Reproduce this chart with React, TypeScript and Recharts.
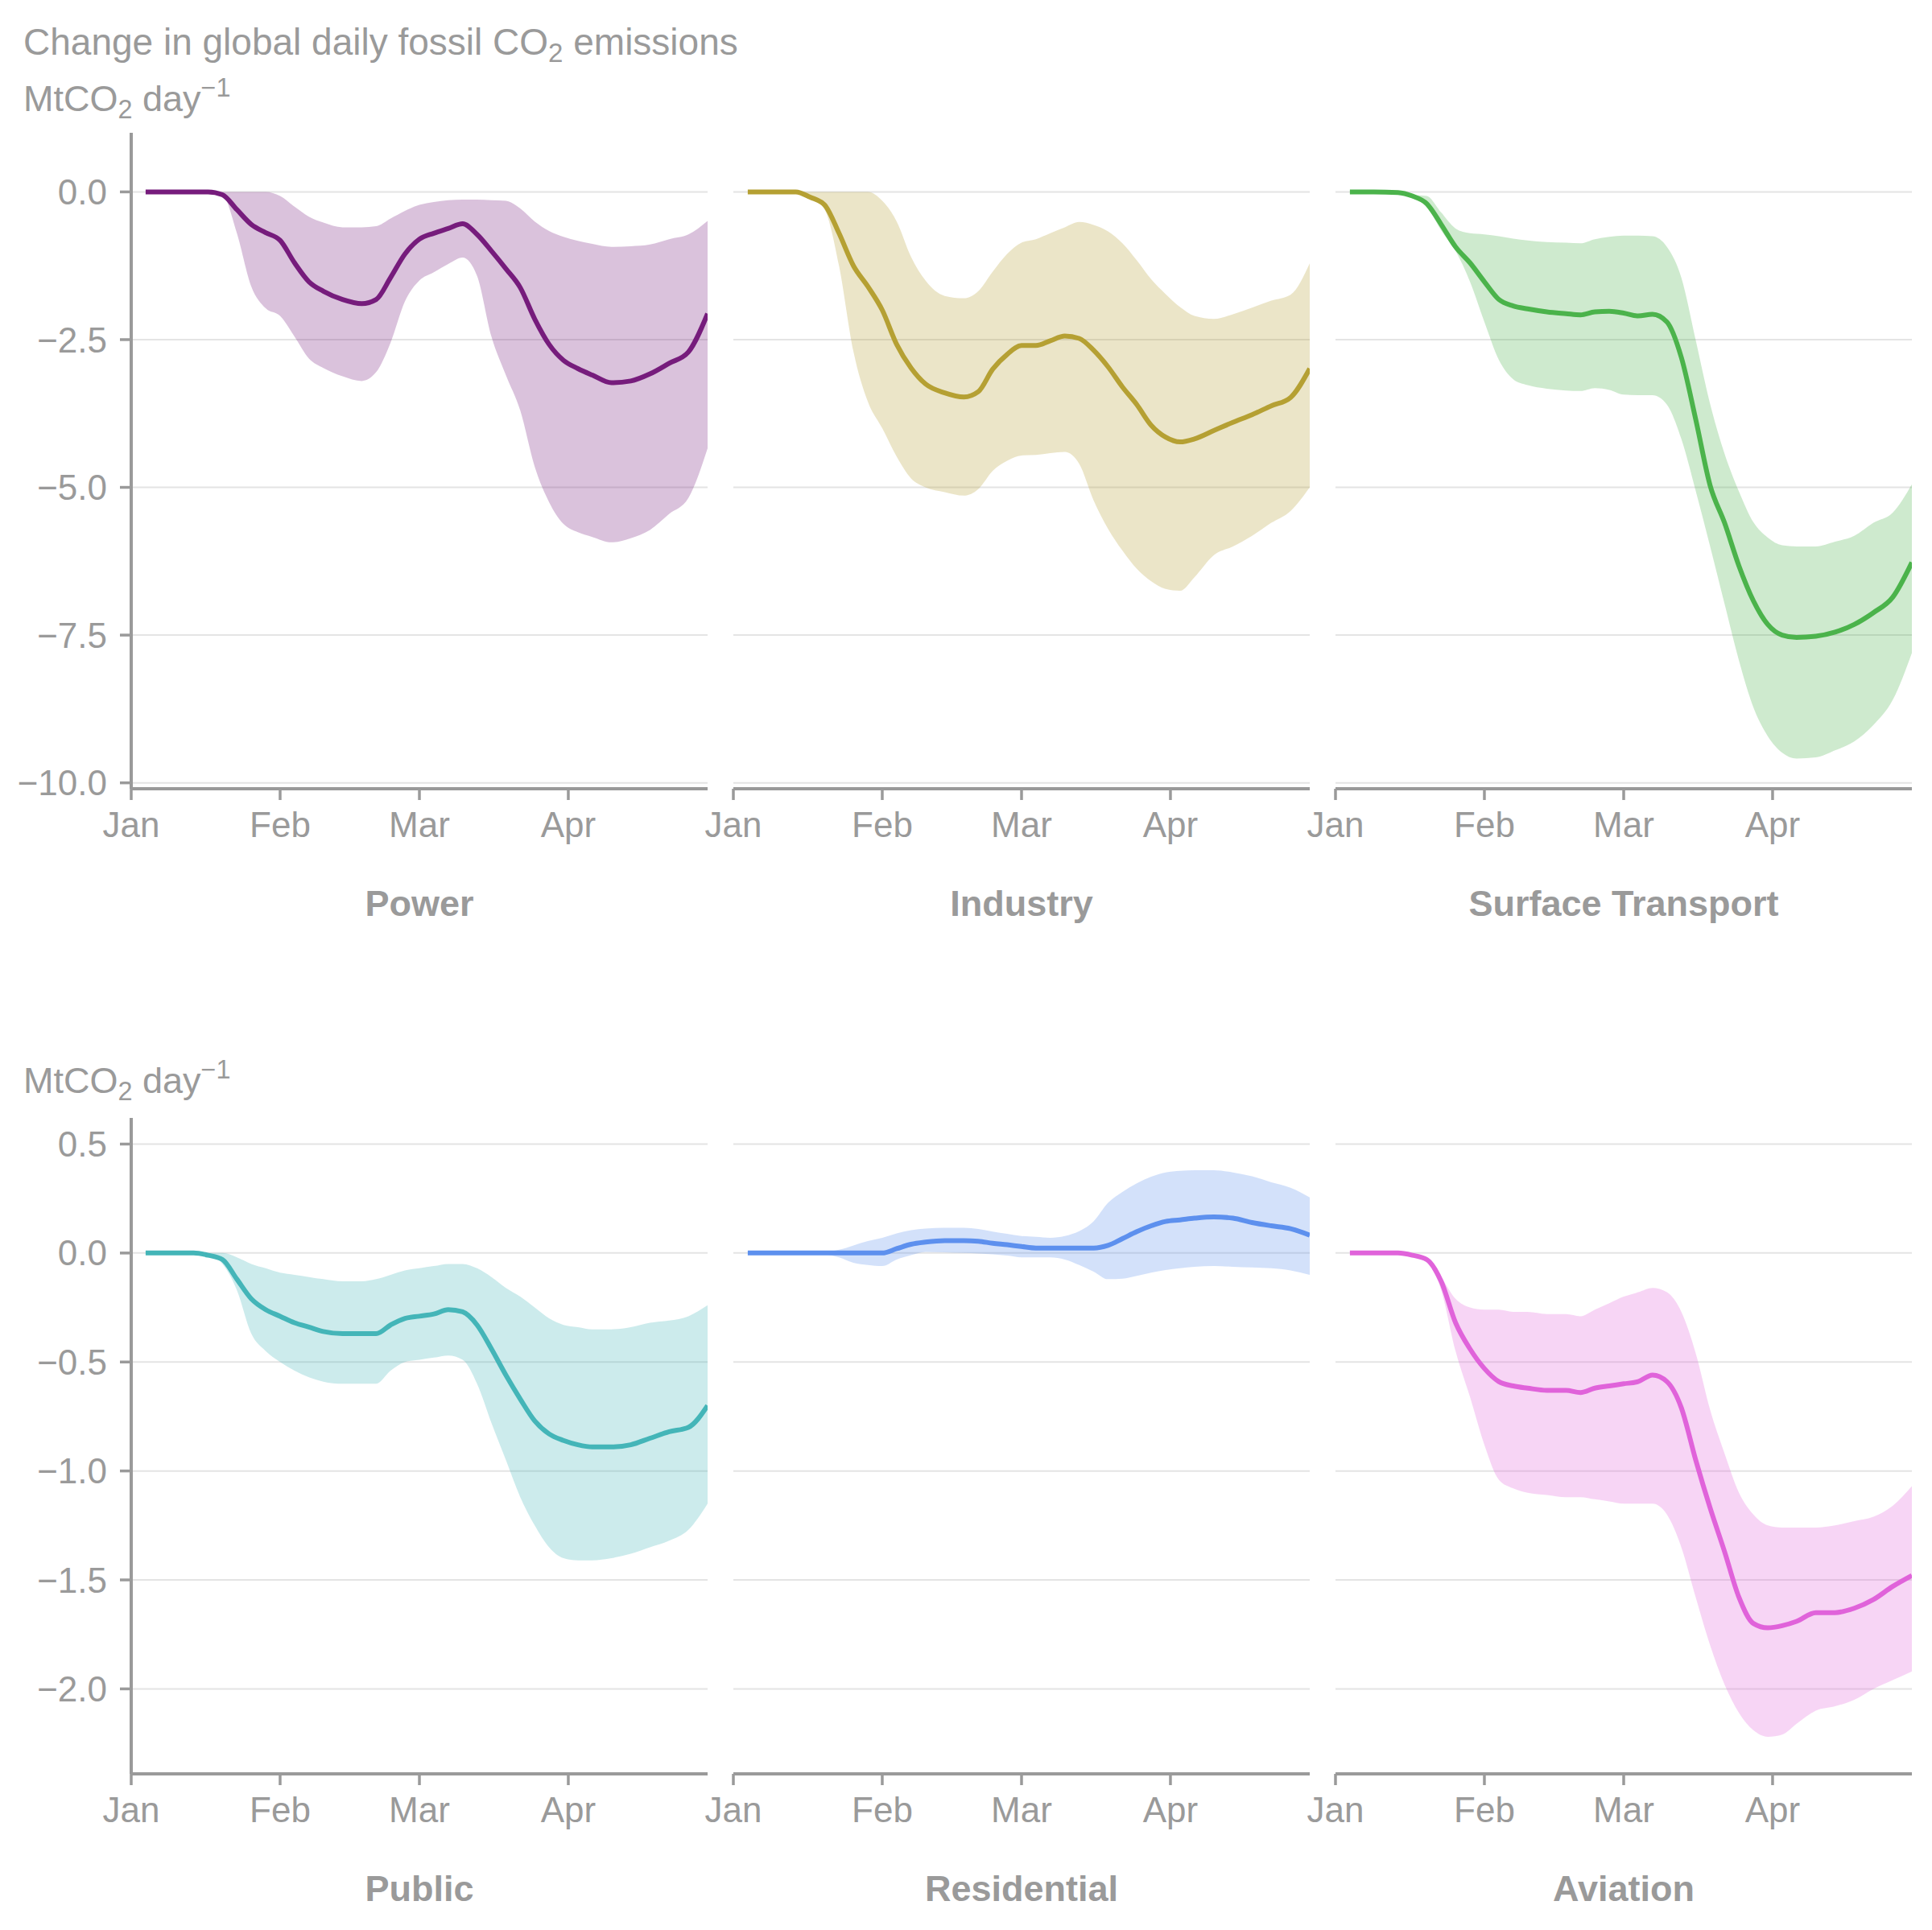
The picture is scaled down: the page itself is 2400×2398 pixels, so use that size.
import React from 'react';
import { ComposedChart, Area, Line, XAxis, YAxis, CartesianGrid } from 'recharts';

// Day index from 1 Jan 2020 (Feb 1 = 31, Mar 1 = 60, Apr 1 = 91)
const DAYS = [3, 8, 13, 16, 19, 22, 25, 28, 31, 34, 37, 40, 44, 48, 51, 54, 57, 60, 63, 66, 69, 72, 75, 78, 81, 84, 87, 90, 93, 96, 100, 104, 108, 112, 116, 120];

const MONTH_TICKS = [0, 31, 60, 91];
const MONTH_LABELS = ['Jan', 'Feb', 'Mar', 'Apr'];

const TOP_TICKS = [0, -2.5, -5, -7.5, -10];
const BOTTOM_TICKS = [0.5, 0, -0.5, -1, -1.5, -2];

const POWER_MEAN = [0, 0, 0, 0, -0.05, -0.3, -0.55, -0.69, -0.82, -1.2, -1.52, -1.68, -1.82, -1.89, -1.82, -1.45, -1.05, -0.8, -0.7, -0.62, -0.54, -0.72, -1.0, -1.3, -1.62, -2.15, -2.58, -2.85, -2.99, -3.1, -3.23, -3.2, -3.08, -2.9, -2.71, -2.06];
const POWER_LOW = [0, 0, 0, 0, -0.05, -0.7, -1.6, -1.97, -2.1, -2.45, -2.82, -2.98, -3.12, -3.2, -3.05, -2.55, -1.85, -1.5, -1.36, -1.22, -1.11, -1.42, -2.45, -3.1, -3.7, -4.65, -5.25, -5.62, -5.76, -5.84, -5.93, -5.86, -5.72, -5.45, -5.18, -4.34];
const POWER_HIGH = [0, 0, 0, 0, 0, 0, 0, 0, -0.07, -0.25, -0.42, -0.52, -0.6, -0.6, -0.58, -0.45, -0.32, -0.22, -0.17, -0.14, -0.13, -0.13, -0.14, -0.15, -0.28, -0.5, -0.66, -0.76, -0.83, -0.88, -0.93, -0.92, -0.89, -0.8, -0.72, -0.49];

const INDUSTRY_MEAN = [0, 0, 0, -0.09, -0.22, -0.7, -1.25, -1.6, -2.0, -2.58, -2.98, -3.25, -3.4, -3.47, -3.38, -3.0, -2.75, -2.6, -2.6, -2.52, -2.44, -2.48, -2.68, -2.96, -3.3, -3.6, -3.95, -4.15, -4.23, -4.18, -4.04, -3.9, -3.77, -3.62, -3.48, -2.99];
const INDUSTRY_LOW = [0, 0, 0, -0.1, -0.3, -1.25, -2.7, -3.55, -4.0, -4.48, -4.85, -5.0, -5.08, -5.14, -5.03, -4.72, -4.55, -4.46, -4.45, -4.42, -4.4, -4.6, -5.22, -5.7, -6.07, -6.38, -6.59, -6.72, -6.75, -6.52, -6.15, -6.0, -5.82, -5.6, -5.4, -5.0];
const INDUSTRY_HIGH = [0, 0, 0, 0, 0, 0, 0, 0, -0.15, -0.5, -1.1, -1.5, -1.76, -1.8, -1.68, -1.35, -1.05, -0.86, -0.8, -0.7, -0.6, -0.51, -0.56, -0.67, -0.87, -1.16, -1.48, -1.73, -1.95, -2.1, -2.15, -2.07, -1.96, -1.84, -1.74, -1.21];

const SURFACE_MEAN = [0, 0, -0.01, -0.07, -0.2, -0.55, -0.93, -1.2, -1.52, -1.82, -1.93, -1.98, -2.03, -2.06, -2.08, -2.03, -2.02, -2.05, -2.1, -2.07, -2.2, -2.8, -3.85, -4.97, -5.6, -6.33, -6.92, -7.32, -7.5, -7.54, -7.52, -7.45, -7.32, -7.12, -6.86, -6.27];
const SURFACE_LOW = [0, 0, -0.01, -0.08, -0.25, -0.65, -1.0, -1.52, -2.2, -2.84, -3.17, -3.27, -3.33, -3.36, -3.37, -3.32, -3.35, -3.43, -3.44, -3.44, -3.6, -4.18, -5.06, -6.0, -6.97, -7.93, -8.72, -9.21, -9.49, -9.59, -9.57, -9.45, -9.3, -9.02, -8.6, -7.8];
const SURFACE_HIGH = [0, 0, 0, -0.05, -0.07, -0.35, -0.62, -0.7, -0.72, -0.75, -0.79, -0.82, -0.85, -0.86, -0.87, -0.8, -0.76, -0.74, -0.74, -0.75, -0.93, -1.45, -2.51, -3.59, -4.43, -5.07, -5.59, -5.85, -5.98, -6.0, -6.0, -5.92, -5.82, -5.6, -5.43, -4.95];

const PUBLIC_MEAN = [0, 0, 0, -0.01, -0.03, -0.12, -0.21, -0.26, -0.29, -0.32, -0.34, -0.36, -0.37, -0.37, -0.37, -0.33, -0.3, -0.29, -0.28, -0.26, -0.27, -0.33, -0.44, -0.56, -0.67, -0.77, -0.83, -0.86, -0.88, -0.89, -0.89, -0.88, -0.85, -0.82, -0.8, -0.7];
const PUBLIC_LOW = [0, 0, 0, -0.01, -0.05, -0.17, -0.37, -0.45, -0.5, -0.54, -0.57, -0.59, -0.6, -0.6, -0.6, -0.54, -0.5, -0.49, -0.48, -0.47, -0.49, -0.6, -0.78, -0.95, -1.12, -1.25, -1.35, -1.4, -1.41, -1.41, -1.4, -1.38, -1.35, -1.32, -1.27, -1.15];
const PUBLIC_HIGH = [0, 0, 0, 0, 0, -0.02, -0.05, -0.07, -0.09, -0.1, -0.11, -0.12, -0.13, -0.13, -0.12, -0.1, -0.08, -0.07, -0.06, -0.05, -0.05, -0.07, -0.11, -0.16, -0.2, -0.25, -0.3, -0.33, -0.34, -0.35, -0.35, -0.34, -0.32, -0.31, -0.29, -0.24];

const RESIDENTIAL_MEAN = [0, 0, 0, 0, 0, 0, 0, 0, 0, 0.02, 0.04, 0.05, 0.057, 0.057, 0.054, 0.045, 0.038, 0.03, 0.023, 0.023, 0.023, 0.023, 0.023, 0.035, 0.066, 0.098, 0.125, 0.145, 0.152, 0.16, 0.166, 0.16, 0.14, 0.125, 0.112, 0.082];
const RESIDENTIAL_LOW = [0, 0, 0, 0, -0.005, -0.02, -0.045, -0.055, -0.06, -0.03, -0.01, 0.005, 0.003, 0, -0.002, -0.006, -0.012, -0.02, -0.02, -0.02, -0.03, -0.055, -0.085, -0.12, -0.118, -0.105, -0.09, -0.078, -0.07, -0.063, -0.06, -0.063, -0.066, -0.07, -0.08, -0.1];
const RESIDENTIAL_HIGH = [0, 0, 0, 0, 0.005, 0.015, 0.035, 0.055, 0.07, 0.09, 0.105, 0.112, 0.116, 0.116, 0.11, 0.098, 0.088, 0.078, 0.074, 0.07, 0.078, 0.1, 0.145, 0.23, 0.28, 0.32, 0.35, 0.37, 0.377, 0.38, 0.38, 0.37, 0.352, 0.325, 0.3, 0.255];

const AVIATION_MEAN = [0, 0, 0, -0.01, -0.03, -0.13, -0.32, -0.44, -0.53, -0.59, -0.61, -0.62, -0.63, -0.63, -0.64, -0.62, -0.61, -0.6, -0.59, -0.56, -0.59, -0.71, -0.95, -1.17, -1.37, -1.58, -1.7, -1.72, -1.71, -1.69, -1.65, -1.65, -1.63, -1.59, -1.53, -1.48];
const AVIATION_LOW = [0, 0, 0, -0.01, -0.04, -0.17, -0.45, -0.66, -0.88, -1.04, -1.08, -1.1, -1.11, -1.12, -1.12, -1.13, -1.14, -1.15, -1.15, -1.15, -1.2, -1.35, -1.58, -1.8, -1.98, -2.11, -2.19, -2.22, -2.21, -2.16, -2.1, -2.08, -2.05, -2.0, -1.96, -1.92];
const AVIATION_HIGH = [0, 0, 0, -0.01, -0.02, -0.11, -0.21, -0.25, -0.26, -0.26, -0.27, -0.27, -0.28, -0.28, -0.29, -0.26, -0.23, -0.2, -0.18, -0.16, -0.18, -0.27, -0.46, -0.72, -0.92, -1.1, -1.2, -1.25, -1.26, -1.26, -1.26, -1.25, -1.23, -1.21, -1.16, -1.07];

const GREY = '#9a9a9a';
const FONT = '"Liberation Sans", Arial, Helvetica, sans-serif';
const FS = 44;

const PLOT_W = 716;
const PLOT_H = 815;
const PLOT_LEFTS = [163, 911, 1659];
const ROWS = [
  { top: 165, domain: [-10.1, 1.0], ticks: TOP_TICKS },
  { top: 1389, domain: [-2.39, 0.62], ticks: BOTTOM_TICKS },
];

const M_TOP = 20;
const M_RIGHT = 40;
const X_H = 180;
const Y_W = 150;

const fmtY = (v: number) => (v < 0 ? '\u2212' : '') + Math.abs(v).toFixed(1);
const fmtX = (v: number) => {
  const i = MONTH_TICKS.indexOf(v);
  return i >= 0 ? MONTH_LABELS[i] : '';
};

type PanelProps = {
  name: string;
  mean: number[];
  low: number[];
  high: number[];
  color: string;
  row: number;
  col: number;
};

function Panel({ name, mean, low, high, color, row, col }: PanelProps) {
  const cfg = ROWS[row];
  const showY = col === 0;
  const mLeft = showY ? 10 : 40;
  const yW = showY ? Y_W : 0;
  const width = mLeft + yW + PLOT_W + M_RIGHT;
  const height = M_TOP + PLOT_H + X_H;
  const left = PLOT_LEFTS[col] - mLeft - yW;
  const top = cfg.top - M_TOP;
  const data = DAYS.map((d, i) => ({ day: d, mean: mean[i], band: [low[i], high[i]] }));
  return (
    <div style={{ position: 'absolute', left, top }}>
      <ComposedChart
        width={width}
        height={height}
        data={data}
        margin={{ top: M_TOP, right: M_RIGHT, bottom: 0, left: mLeft }}
      >
        <CartesianGrid
          vertical={false}
          horizontalValues={cfg.ticks}
          stroke="#e4e4e4"
          strokeWidth={2}
        />
        <XAxis
          type="number"
          dataKey="day"
          domain={[0, 120]}
          ticks={MONTH_TICKS}
          tickFormatter={fmtX}
          allowDataOverflow
          height={X_H}
          tickSize={14}
          tickMargin={15}
          axisLine={{ stroke: GREY, strokeWidth: 4 }}
          tickLine={{ stroke: GREY, strokeWidth: 3.5 }}
          tick={{ fill: GREY, fontSize: FS, fontFamily: FONT }}
          label={{
            value: name,
            position: 'insideBottom',
            offset: 22,
            style: { fill: GREY, fontSize: 45, fontWeight: 'bold', fontFamily: FONT },
          }}
        />
        <YAxis
          type="number"
          domain={cfg.domain}
          ticks={cfg.ticks}
          allowDataOverflow
          hide={!showY}
          width={Y_W}
          tickFormatter={fmtY}
          tickSize={14}
          tickMargin={16}
          axisLine={{ stroke: GREY, strokeWidth: 4 }}
          tickLine={{ stroke: GREY, strokeWidth: 3.5 }}
          tick={{ fill: GREY, fontSize: FS, fontFamily: FONT }}
        />
        <Area
          dataKey="band"
          type="monotone"
          stroke="none"
          fill={color}
          fillOpacity={0.27}
          isAnimationActive={false}
        />
        <Line
          dataKey="mean"
          type="monotone"
          stroke={color}
          strokeWidth={6}
          dot={false}
          activeDot={false}
          isAnimationActive={false}
        />
      </ComposedChart>
    </div>
  );
}

const textStyle: React.CSSProperties = {
  position: 'absolute',
  left: 29,
  fontSize: 45,
  lineHeight: '45px',
  color: GREY,
  fontFamily: FONT,
  whiteSpace: 'nowrap',
};
const subStyle: React.CSSProperties = { fontSize: '0.72em', position: 'relative', top: '0.28em' };
const supStyle: React.CSSProperties = { fontSize: '0.72em', position: 'relative', top: '-0.55em' };

function Unit({ top }: { top: number }) {
  return (
    <div style={{ ...textStyle, top }}>
      MtCO<span style={subStyle}>2</span> day<span style={supStyle}>{'\u2212'}1</span>
    </div>
  );
}

export default function App() {
  return (
    <div style={{ position: 'relative', width: 2400, height: 2398, background: '#ffffff', overflow: 'hidden' }}>
      <style>{'body{margin:0;}'}</style>
      <div style={{ ...textStyle, top: 30, fontSize: 46 }}>
        Change in global daily fossil CO<span style={subStyle}>2</span> emissions
      </div>
      <Unit top={100} />
      <Unit top={1320} />
      <Panel name="Power" mean={POWER_MEAN} low={POWER_LOW} high={POWER_HIGH} color="#761c7c" row={0} col={0} />
      <Panel name="Industry" mean={INDUSTRY_MEAN} low={INDUSTRY_LOW} high={INDUSTRY_HIGH} color="#b5a033" row={0} col={1} />
      <Panel name="Surface Transport" mean={SURFACE_MEAN} low={SURFACE_LOW} high={SURFACE_HIGH} color="#4bb34b" row={0} col={2} />
      <Panel name="Public" mean={PUBLIC_MEAN} low={PUBLIC_LOW} high={PUBLIC_HIGH} color="#44b5b8" row={1} col={0} />
      <Panel name="Residential" mean={RESIDENTIAL_MEAN} low={RESIDENTIAL_LOW} high={RESIDENTIAL_HIGH} color="#5d90ee" row={1} col={1} />
      <Panel name="Aviation" mean={AVIATION_MEAN} low={AVIATION_LOW} high={AVIATION_HIGH} color="#e063da" row={1} col={2} />
    </div>
  );
}
